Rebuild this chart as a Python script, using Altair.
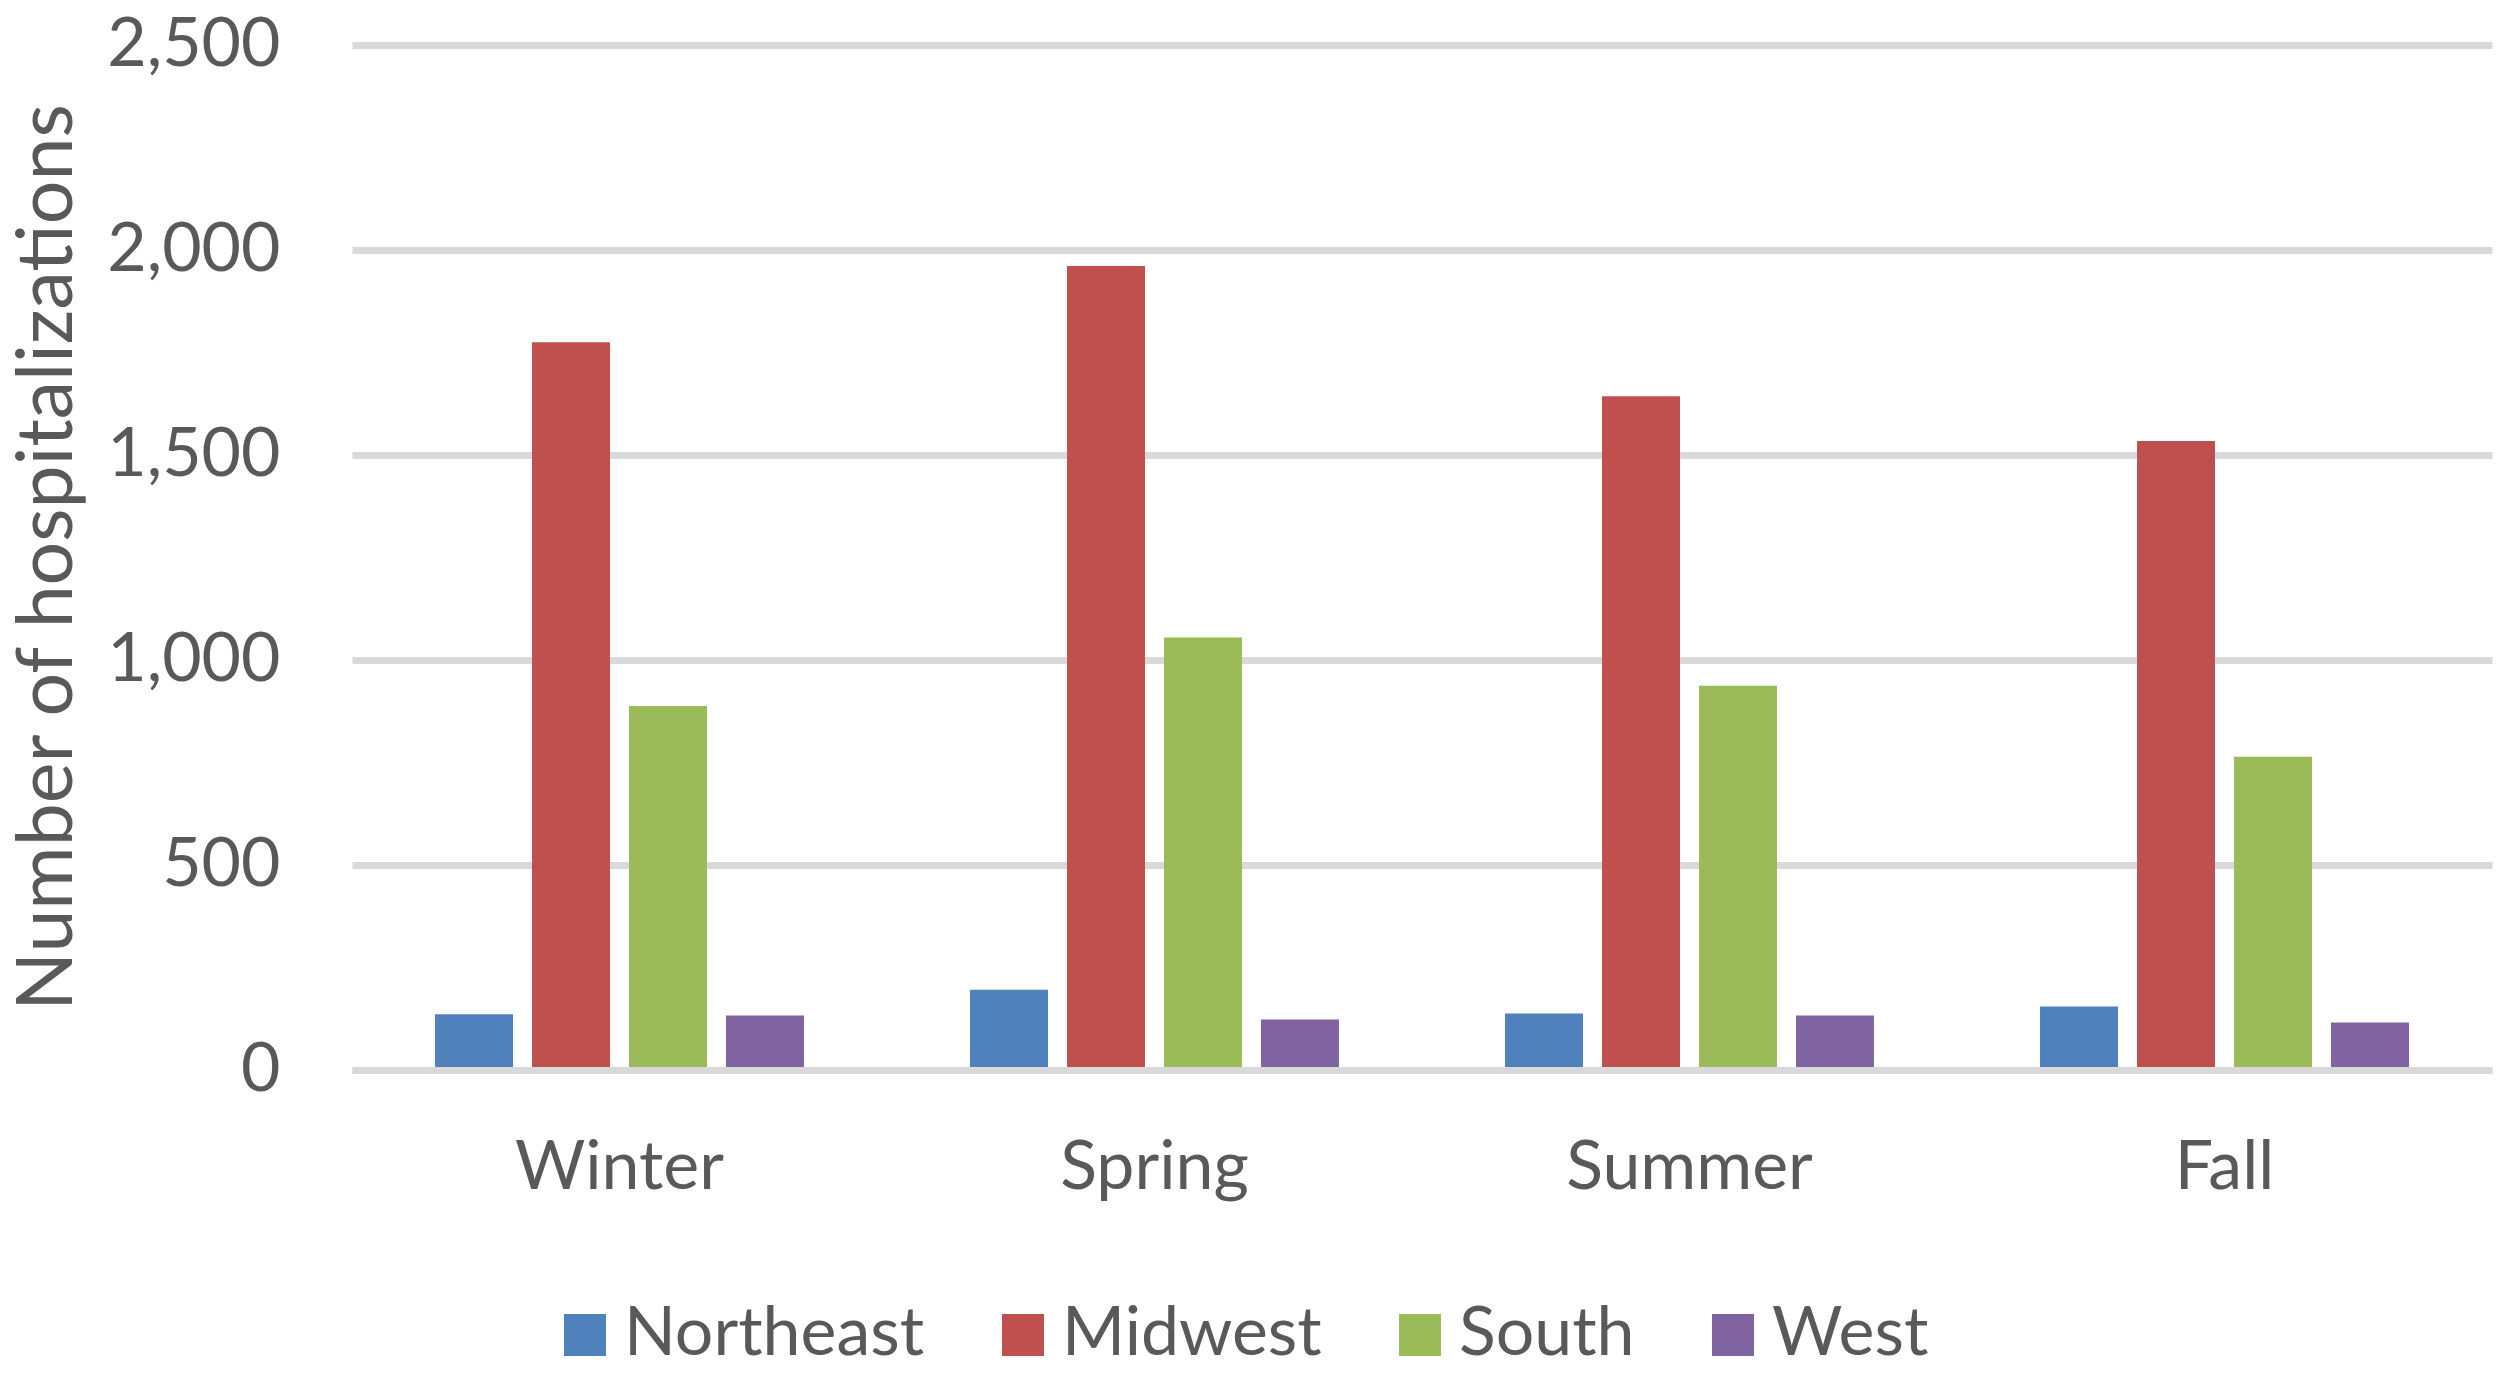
import altair as alt
import pandas as pd

seasons = ["Winter", "Spring", "Summer", "Fall"]
regions = ["Northeast", "Midwest", "South", "West"]
northeast = [136, 196, 138, 155]
midwest = [1775, 1961, 1643, 1534]
south = [888, 1055, 937, 764]
west = [133, 123, 133, 116]
colors = ["#4F81BD", "#C0504D", "#9BBB59", "#8064A2"]
y_ticks = [0, 500, 1000, 1500, 2000, 2500]

rows = []
for series_name, vals in zip(regions, [northeast, midwest, south, west]):
    for s, v in zip(seasons, vals):
        rows.append({"Season": s, "Region": series_name, "Value": v})
df = pd.DataFrame(rows)

FONT = "Lato"
TXT = "#595959"

chart = alt.Chart(df).mark_bar().encode(
    x=alt.X("Season:N", sort=seasons,
            scale=alt.Scale(paddingInner=0, paddingOuter=0),
            axis=alt.Axis(title=None, labelAngle=0, ticks=False, domain=True,
                          domainColor="#D9D9D9", domainWidth=7, zindex=1,
                          labelFont=FONT, labelFontSize=68, labelColor=TXT,
                          labelBaseline="middle", labelPadding=98,
                          labelLimit=1000)),
    xOffset=alt.XOffset("Region:N", sort=regions,
                        scale=alt.Scale(paddingInner=0.196, paddingOuter=0.856)),
    y=alt.Y("Value:Q",
            scale=alt.Scale(domain=[0, 2500], nice=False),
            axis=alt.Axis(title="Number of hospitalizations", values=y_ticks,
                          format=",.0f", ticks=False, domain=False, grid=True,
                          gridColor="#D9D9D9", gridWidth=7, zindex=0,
                          labelFont=FONT, labelFontSize=68, labelColor=TXT,
                          labelBaseline="middle", labelPadding=72,
                          labelLimit=1000,
                          titleFont=FONT, titleFontSize=77, titleFontWeight="normal",
                          titleColor=TXT, titleAngle=270, titleAlign="center",
                          titleBaseline="middle", titleX=-304, titleY=512,
                          titleLimit=2000)),
    color=alt.Color("Region:N", sort=regions,
                    scale=alt.Scale(domain=regions, range=colors),
                    legend=alt.Legend(title=None, orient="none", direction="horizontal",
                                      legendX=199, legendY=1256, padding=0,
                                      symbolType="square", symbolSize=1764,
                                      symbolStrokeWidth=0, labelOffset=5,
                                      columnPadding=64, labelFont=FONT,
                                      labelFontSize=68, labelColor=TXT,
                                      labelLimit=1000)),
).properties(
    width=2140, height=1025,
    background="white",
    autosize=alt.AutoSizeParams(type="none"),
    padding={"left": 344, "top": 37, "right": 10, "bottom": 300},
).configure_view(stroke=None)

chart.save("out.html", embed_options={"renderer": "svg", "actions": False})
